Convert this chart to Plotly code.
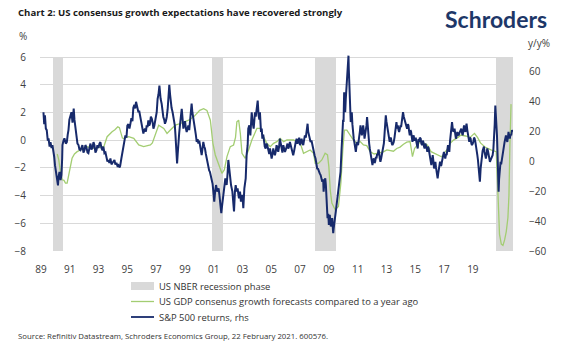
import plotly.graph_objects as go

# ---------------- data ----------------
# S&P 500 y/y returns (%), right axis; x in decimal years
sp_x = [1989.83,1989.88,1989.93,1989.99,1990.05,1990.12,1990.17,1990.24,1990.3,1990.37,1990.43,1990.5,1990.55,1990.6,1990.68,1990.75,1990.8,1990.83,1990.9,1990.97,
1991.03,1991.08,1991.1,1991.17,1991.23,1991.32,1991.39,1991.45,1991.5,1991.56,1991.61,1991.7,1991.77,1991.85,1991.9,1991.95,
1992.03,1992.1,1992.17,1992.23,1992.3,1992.37,1992.43,1992.5,1992.57,1992.63,1992.7,1992.77,1992.83,1992.9,1992.97,
1993.03,1993.1,1993.17,1993.23,1993.3,1993.37,1993.43,1993.5,1993.57,1993.63,1993.7,1993.77,1993.83,1993.9,1993.97,
1994.03,1994.1,1994.17,1994.23,1994.3,1994.37,1994.43,1994.5,1994.57,1994.63,1994.7,1994.77,1994.83,1994.9,1994.95,
1995.03,1995.1,1995.17,1995.23,1995.3,1995.37,1995.43,1995.5,1995.57,1995.63,1995.7,1995.77,1995.83,1995.9,1995.95,
1996.01,1996.06,1996.12,1996.17,1996.22,1996.28,1996.34,1996.39,1996.45,1996.5,1996.56,1996.61,1996.67,1996.72,1996.78,1996.83,1996.89,1996.94,
1997.0,1997.06,1997.12,1997.17,1997.23,1997.28,1997.34,1997.39,1997.45,1997.51,1997.57,1997.61,1997.65,1997.72,1997.77,1997.83,1997.89,1997.94,
1998.0,1998.06,1998.12,1998.17,1998.23,1998.28,1998.32,1998.38,1998.45,1998.5,1998.54,1998.6,1998.64,1998.68,1998.72,1998.75,1998.79,1998.83,1998.89,1998.94,
1999.0,1999.06,1999.12,1999.17,1999.23,1999.28,1999.34,1999.39,1999.45,1999.5,1999.56,1999.61,1999.67,1999.72,1999.77,1999.83,1999.89,1999.94,
2000.0,2000.06,2000.12,2000.17,2000.23,2000.28,2000.34,2000.39,2000.45,2000.5,2000.56,2000.61,2000.67,2000.72,2000.78,2000.83,2000.89,2000.94,
2001.0,2001.06,2001.12,2001.17,2001.23,2001.29,2001.35,2001.43,2001.52,2001.57,2001.61,2001.66,2001.7,2001.75,2001.79,2001.84,2001.88,2001.93,2001.97,
2002.02,2002.06,2002.12,2002.17,2002.23,2002.28,2002.35,2002.44,2002.5,2002.55,2002.61,2002.66,2002.73,2002.79,2002.84,2002.88,2002.95,
2003.01,2003.06,2003.1,2003.14,2003.17,2003.24,2003.29,2003.33,2003.39,2003.46,2003.5,2003.57,2003.64,2003.69,2003.73,2003.79,2003.86,2003.91,2003.95,
2004.0,2004.06,2004.13,2004.19,2004.24,2004.28,2004.35,2004.4,2004.44,2004.5,2004.55,2004.6,2004.66,2004.72,2004.77,2004.84,2004.9,2004.95,
2005.0,2005.06,2005.12,2005.17,2005.22,2005.28,2005.34,2005.39,2005.45,2005.5,2005.56,2005.61,2005.67,2005.73,2005.78,2005.84,2005.9,2005.95,
2006.01,2006.06,2006.12,2006.17,2006.23,2006.28,2006.34,2006.39,2006.45,2006.5,2006.56,2006.61,2006.67,2006.73,2006.78,2006.84,2006.9,2006.95,
2007.01,2007.06,2007.12,2007.17,2007.22,2007.28,2007.34,2007.39,2007.46,2007.5,2007.55,2007.6,2007.66,2007.72,2007.77,2007.83,2007.88,2007.93,2007.99,
2008.05,2008.1,2008.16,2008.21,2008.27,2008.33,2008.39,2008.44,2008.5,2008.53,2008.58,2008.64,2008.68,2008.72,2008.79,2008.84,2008.88,2008.94,
2009.01,2009.05,2009.1,2009.14,2009.17,2009.2,2009.23,2009.3,2009.35,2009.39,2009.44,2009.48,2009.53,2009.57,2009.62,2009.66,2009.72,2009.76,2009.79,2009.83,2009.86,2009.9,2009.94,2009.97,
2010.01,2010.05,2010.08,2010.11,2010.14,2010.17,2010.19,2010.21,2010.23,2010.28,2010.31,2010.34,2010.38,2010.41,2010.45,2010.48,2010.54,2010.58,2010.61,2010.68,2010.72,2010.77,2010.83,2010.9,2010.95,2010.99,
2011.04,2011.08,2011.13,2011.17,2011.22,2011.26,2011.3,2011.34,2011.39,2011.43,2011.47,2011.52,2011.57,2011.61,2011.66,2011.7,2011.75,2011.79,2011.84,2011.88,2011.93,2011.97,
2012.02,2012.06,2012.1,2012.14,2012.19,2012.23,2012.28,2012.32,2012.37,2012.41,2012.46,2012.5,2012.55,2012.59,2012.64,2012.68,2012.72,2012.77,2012.81,2012.86,2012.9,2012.94,2012.99,
2013.03,2013.08,2013.12,2013.17,2013.21,2013.26,2013.3,2013.35,2013.39,2013.44,2013.48,2013.53,2013.57,2013.62,2013.66,2013.7,2013.74,2013.79,2013.83,2013.88,2013.92,2013.97,
2014.01,2014.06,2014.1,2014.15,2014.19,2014.24,2014.28,2014.33,2014.37,2014.42,2014.46,2014.5,2014.54,2014.59,2014.63,2014.68,2014.72,2014.77,2014.81,2014.86,2014.9,2014.95,
2015.01,2015.05,2015.1,2015.15,2015.19,2015.23,2015.27,2015.32,2015.36,2015.41,2015.45,2015.5,2015.54,2015.59,2015.63,2015.68,2015.72,2015.77,2015.81,2015.86,2015.9,2015.95,2015.99,
2016.03,2016.07,2016.11,2016.14,2016.18,2016.21,2016.26,2016.3,2016.35,2016.39,2016.43,2016.47,2016.52,2016.56,2016.61,2016.65,2016.7,2016.74,2016.79,2016.83,2016.88,2016.92,2016.97,
2017.01,2017.06,2017.1,2017.15,2017.19,2017.23,2017.27,2017.32,2017.36,2017.41,2017.45,2017.5,2017.54,2017.59,2017.63,2017.68,2017.72,2017.77,2017.81,2017.86,2017.9,2017.94,2017.99,
2018.03,2018.07,2018.12,2018.16,2018.21,2018.25,2018.3,2018.34,2018.39,2018.43,2018.48,2018.52,2018.57,2018.61,2018.66,2018.7,2018.75,2018.79,2018.83,2018.87,2018.92,2018.96,
2019.01,2019.05,2019.1,2019.14,2019.19,2019.23,2019.27,2019.32,2019.36,2019.41,2019.45,2019.5,2019.54,2019.59,2019.63,2019.68,2019.72,2019.77,2019.81,2019.86,2019.9,2019.95,2019.99,
2020.03,2020.05,2020.1,2020.13,2020.16,2020.19,2020.21,2020.24,2020.27,2020.3,2020.34,2020.38,2020.43,2020.47,2020.52,2020.56,2020.61,2020.65,2020.7,2020.74,2020.79,2020.83,2020.87,2020.92,2020.96,
2021.0,2021.05,2021.1,2021.16]
sp_y = [33,25,31,22,21,14,15.5,10,13,9,11,7.5,3,-2.5,-9,-12.5,-16,-11,-7,-12.5,
-9,2,11,14,15.5,12,13,18,21,28,30,33,26,35.5,28,24,
14,12,11,8,7.5,10,11,6,7.5,11,9.5,6,5.5,9,12,
8,9,13,11,6,7.5,11,9,12,13,9,7.5,10,5.5,6,
4,0,1,-1,2,-2,-1,0,1,-2,-1,-3,-2.5,-4,-3,
2,6,11,14,17.5,16,24,25,22,25,29,27,36,38,35.5,
40,37.5,35,33,34,31,28,26.4,22,18.7,21,22,20,24.2,23,27.5,24,25.3,
30,28.7,26,22,24,26.4,30,33,42,45,50.9,46,42,38.7,33,29.8,28,25.3,
27,29.8,35,42,51.3,45,39.8,36,33,30,28.7,24,18,13.1,6,-1.3,5,13.1,19,24.2,
30,35.3,28,22,25,27,22,19.8,22,24.2,21,26.4,32,38.7,33,29.8,26,22,
18,13.1,15,12,14,10.9,7,4.2,9,13.1,10,8.7,5,2,-1,-4.7,-6,-6.9,
-9,-11.3,-15,-20.2,-26.9,-20,-15.8,-20.2,-18,-22,-26.9,-30,-34.7,-30,-26.9,-22,-18,-14,-11.3,
-13,-15.8,-8,1,-4.7,-11.3,-15.8,-20.2,-26.9,-33.5,-20.2,-15.8,-20.2,-18,-22,-24.7,-20.2,
-26.9,-24,-22.4,-27,-31.3,-18,-15,-11.3,4.2,10.9,22,24.2,17.5,25,33,26.4,22,28,33,
30,35.3,40.8,30.9,28,33,19.8,22,15.3,18,13.1,10,8.7,12,10.9,6.4,5,8.7,
5,2,5,8.7,6,4.2,7,10.9,9,6.4,10,15.3,12,8.7,6,10.9,9,6.4,
8,10.9,12,8.7,10,13.1,11,8.7,6,4.2,7,10.9,13,15.3,12,13.1,16,10.9,
13,15.3,12,10.9,14,17.5,16,19.8,25.3,20,17.5,15,13.1,14,10.9,8,6.4,4,2,
-2,-4.7,-5,-6.9,-8,-9.1,-11,-13.6,-12,-20.2,-14,-11.3,-15.8,-22.4,-38,-35,-42.5,-35.8,
-43.6,-40,-38,-44,-48,-45,-40.2,-36.9,-33,-29.1,-24,-20.2,-18,-15.8,-10,-6.9,6.4,15,24.2,28,26.4,46.4,38,33,
42,48,50.9,55,57.5,64,70.9,62,53.1,44.2,35,26.4,30,33,25,19.8,15.3,13,10.9,6.4,10,13.1,10.9,15.3,20,24.2,
20,17.5,21,24.2,20,15.3,18,19.8,24,29.8,22,17.5,12,8.7,6,4.2,0,-2.5,1,2,-1,-0.2,
3,2,5,4.2,8,6.4,2,-0.2,2,4.2,5,8.7,12,17.5,24,30.9,27,24.2,20,17.5,15,13.1,16,
15.3,12,10.9,12,13.1,16,19.8,23,26.4,22,24.2,21,19.8,22,24.2,23,26.4,30,33,30,28.7,26,
24.2,23,22,25,24.2,20,17.5,21,19.8,16,13.1,16,17.5,14,15.3,16,13.1,11,8.7,15,13.1,16,
15.3,12,10.9,14,13.1,10,8.7,12,10.9,9,6.4,10,8.7,5,2,0,-2.5,1,4.2,0,-4.7,-2,-0.2,
-4,-6.9,-9,-11.3,-8,-4.7,-2,-0.2,-3,-2.5,0,2,4,6.4,4,2,5,4.2,8,10.9,9,6.4,14,
19.8,22,26.4,22,19.8,21,22,18,15.3,17,19.8,18,17.5,19,19.8,21,22,19,17.5,21,24.2,22,19.8,
23,25.3,21,17.5,14,13.1,16,15.3,12,10.9,12,13.1,16,15.3,13,10.9,8,4.2,1,-2.5,-8,-13.6,
-4.7,0,4.2,7,8.7,10,6.4,4,2,5,8.7,7,4.2,2,-0.2,1,2,3,4.2,8,13.1,25,37.5,
30,33,17.5,8,-2.5,-12,-20.2,-12,-6.9,-3,-0.2,-2,2,4,6.4,9,13.1,15,17.5,15,13.1,16,19.8,17,15.3,
18,17.5,21,19.8]

# US GDP consensus growth forecasts vs a year ago (pp), left axis
gdp_x = [1990.75,1990.85,1990.95,1991.08,1991.2,1991.3,1991.41,1991.5,1991.6,1991.74,1991.9,1992.08,1992.3,1992.5,1992.74,1993.0,1993.3,1993.6,1993.86,
1994.08,1994.25,1994.41,1994.6,1994.79,1994.9,1995.0,1995.1,1995.19,1995.52,1995.86,1996.19,1996.52,1996.97,1997.1,1997.3,1997.52,1997.86,
1998.08,1998.3,1998.63,1998.97,1999.3,1999.52,1999.86,2000.08,2000.26,2000.52,2000.74,2000.97,2001.14,2001.3,2001.52,2001.74,2001.9,
2002.08,2002.3,2002.52,2002.65,2002.74,2002.86,2002.97,2003.08,2003.3,2003.52,2003.74,2004.08,2004.3,2004.52,2004.74,2004.97,
2005.19,2005.41,2005.63,2005.86,2006.08,2006.3,2006.52,2006.74,2006.97,2007.19,2007.41,2007.63,2007.86,2007.97,2008.19,2008.41,2008.63,2008.79,2008.88,2008.97,
2009.08,2009.3,2009.52,2009.68,2009.81,2009.92,2010.08,2010.3,2010.52,2010.74,2010.97,2011.19,2011.41,2011.63,2011.9,2012.08,2012.3,2012.52,2012.75,2012.97,
2013.19,2013.41,2013.63,2013.86,2014.08,2014.3,2014.46,2014.6,2014.74,2014.97,2015.19,2015.45,2015.7,2016.0,2016.2,2016.4,2016.6,2016.83,
2017.0,2017.2,2017.5,2017.7,2018.0,2018.3,2018.6,2018.8,2019.0,2019.3,2019.7,2020.05,2020.16,2020.27,2020.39,2020.5,2020.61,2020.72,2020.83,2020.9,2020.96,2021.01,2021.04]
gdp_y = [-1.0,-1.4,-2.2,-2.86,-2.9,-3.1,-3.1,-2.6,-2.0,-1.31,-1.0,-0.83,-0.71,-0.6,-0.47,-0.55,-0.59,-0.5,-0.47,
0.25,0.45,0.61,0.75,0.96,0.9,0.4,0.15,0.13,0.25,0.13,-0.35,-0.47,-0.35,-0.2,0.49,1.08,0.85,
0.49,0.73,1.08,1.2,1.32,1.44,1.68,1.92,2.15,2.27,2.15,1.44,-0.23,-1.07,-1.79,-2.39,-2.15,
-1.19,-0.47,-0.35,0.2,1.32,1.44,0.49,-0.95,-1.31,-0.71,0.01,0.85,0.85,0.25,-0.23,-0.47,
-0.23,-0.11,0.13,-0.11,0.01,0.01,0.01,-0.11,-0.23,-0.95,-0.83,-0.71,-0.95,-1.67,-1.67,-1.43,-0.95,-1.07,-1.91,-3.58,
-4.54,-5.02,-4.78,-3.1,-0.71,0.73,0.73,0.37,0.01,-0.23,-0.1,-0.35,-0.4,-0.83,-1.0,-0.95,-0.9,-0.85,-0.7,-0.75,
-0.8,-0.6,-0.5,-0.3,-0.15,-0.1,-1.19,-0.6,-0.4,-0.1,-0.2,-0.35,-0.83,-1.0,-1.07,-1.2,-0.9,-0.6,
-0.2,0.0,0.2,0.37,0.3,0.2,0.49,0.2,-0.2,-0.5,-0.7,-0.83,-3.7,-6.8,-7.5,-7.6,-7.2,-6.6,-5.6,-4.0,-0.5,2.5,2.6]

# NBER recession phases (start, end) in decimal years
rec_start = [1990.5, 2001.1, 2007.95, 2020.05]
rec_end = [1991.12, 2001.8, 2009.37, 2021.17]

# axis labels
x_labels = ["89", "91", "93", "95", "97", "99", "01", "03", "05", "07", "09", "11", "13", "15", "17", "19"]
left_ticks = [-8, -6, -4, -2, 0, 2, 4, 6]
right_ticks = [-60, -40, -20, 0, 20, 40, 60]

title = "Chart 2: US consensus growth expectations have recovered strongly"
legend_names = ["US NBER recession phase",
                "US GDP consenus growth forecasts compared to a year ago",
                "S&P 500 returns, rhs"]
source = "Source: Refinitiv Datastream, Schroders Economics Group, 22 February 2021. 600576."

# ---------------- styling ----------------
NAVY = "#172a6b"
GREEN = "#a3cd72"
GREY = "#d9d9d9"
TXT = "#404040"
FONT = "Open Sans"

XMIN, XMAX = 1989.6, 2021.17
# the source chart's category labels are spaced slightly tighter than calendar years
label_pos = [1989.66 + 0.961 * (i * 2) for i in range(len(x_labels))]

# plot box in pixels: top gridline (6 / 70) at y=57, bottom (-8 / -60) at y=251;
# a little head-room above the top gridline lets the 2010 spike poke out as in the source
PL, PR, PT, PB = 40, 561 - 48, 53, 345 - 94
L_PER_PX = 14 / 194.0
R_PER_PX = 130 / 194.0
LEFT_TOP = 6 + 4 * L_PER_PX
RIGHT_TOP = 70 + 4 * R_PER_PX

fig = go.Figure()

fig.add_trace(go.Bar(
    x=[(s + e) / 2 for s, e in zip(rec_start, rec_end)],
    y=[14] * len(rec_start), base=[-8] * len(rec_start),
    width=[e - s for s, e in zip(rec_start, rec_end)],
    marker=dict(color=GREY, line=dict(width=0)),
    name=legend_names[0], showlegend=False, yaxis="y", hoverinfo="skip"))

fig.add_trace(go.Scatter(
    x=gdp_x, y=gdp_y, mode="lines", line=dict(color=GREEN, width=1.3),
    name=legend_names[1], showlegend=False, yaxis="y"))

fig.add_trace(go.Scatter(
    x=sp_x, y=sp_y, mode="lines", line=dict(color=NAVY, width=2),
    name=legend_names[2], showlegend=False, yaxis="y2"))

fig.update_layout(
    width=561, height=345,
    margin=dict(l=PL, r=561 - PR, t=PT, b=345 - PB),
    paper_bgcolor="white", plot_bgcolor="white",
    font=dict(family=FONT, size=10, color=TXT),
    bargap=0,
    xaxis=dict(range=[XMIN, XMAX], showgrid=False, zeroline=False, showline=False,
               tickmode="array", tickvals=label_pos, ticktext=x_labels,
               ticks="", ticklabelstandoff=11, tickfont=dict(size=10, color=TXT)),
    yaxis=dict(range=[-8, LEFT_TOP], tickmode="array", tickvals=left_ticks,
               showgrid=True, gridcolor=GREY, gridwidth=1, zeroline=False, showline=False,
               ticks="", ticklabelstandoff=13, tickfont=dict(size=10, color=TXT)),
    yaxis2=dict(range=[-60, RIGHT_TOP], overlaying="y", side="right", tickmode="array",
                tickvals=right_ticks, showgrid=False, zeroline=False, showline=False,
                ticks="", ticklabelstandoff=15, tickfont=dict(size=10, color=TXT)),
    showlegend=False,
)

def px(x):
    return (x - PL) / (PR - PL)
def py(y):
    return (PB - y) / (PB - PT)

annotations = [
    dict(text="<b>" + title + "</b>", x=px(16), y=py(12), xanchor="left", yanchor="middle",
         font=dict(size=9.6, color="#1a1a1a")),
    dict(text="<b>Schroders</b>", x=px(549), y=py(19), xanchor="right", yanchor="middle",
         font=dict(family="Lato", size=23, color="#1d3768")),
    dict(text="%", x=px(17), y=py(36), xanchor="left", yanchor="middle",
         font=dict(size=10, color=TXT)),
    dict(text="y/y%", x=px(526), y=py(43), xanchor="left", yanchor="middle",
         font=dict(size=10, color=TXT)),
    dict(text=source, x=px(16), y=py(336), xanchor="left", yanchor="middle",
         font=dict(size=7.8, color="#333333")),
]
rows = [286, 301.5, 317]
for name, yy in zip(legend_names, rows):
    annotations.append(dict(text=name, x=px(157), y=py(yy), xanchor="left", yanchor="middle",
                            font=dict(size=9.4, color="#333333")))
for a in annotations:
    a.update(xref="paper", yref="paper", showarrow=False)
fig.update_layout(annotations=annotations)

shapes = [
    dict(type="rect", x0=px(131), x1=px(154), y0=py(282), y1=py(290), fillcolor=GREY,
         line=dict(width=0)),
    dict(type="line", x0=px(131), x1=px(154), y0=py(rows[1]), y1=py(rows[1]),
         line=dict(color=GREEN, width=1.3)),
    dict(type="line", x0=px(131), x1=px(154), y0=py(rows[2]), y1=py(rows[2]),
         line=dict(color=NAVY, width=1.8)),
]
for s in shapes:
    s.update(xref="paper", yref="paper", layer="above")
fig.update_layout(shapes=shapes)

fig.write_html("out.html")
